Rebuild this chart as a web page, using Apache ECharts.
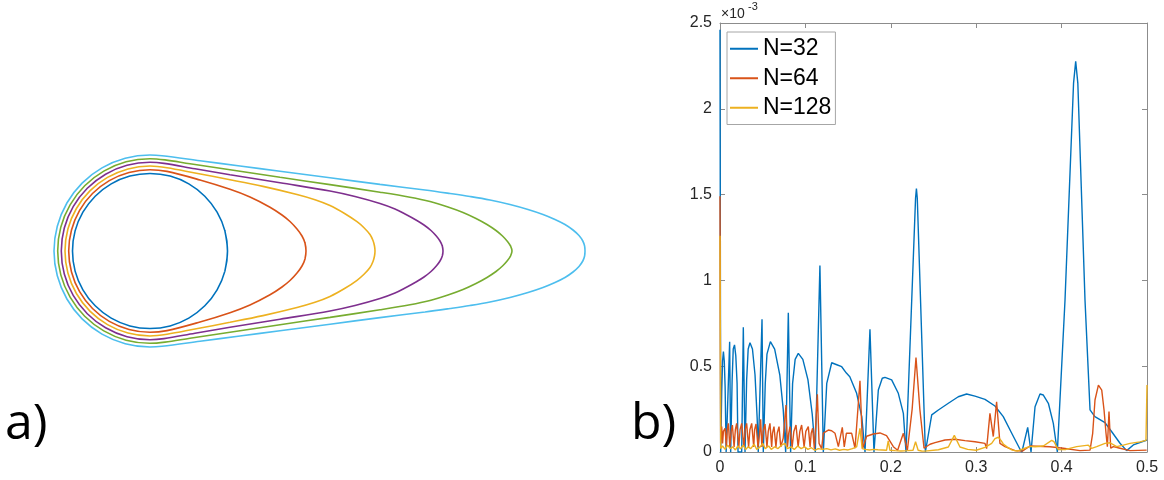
<!DOCTYPE html>
<html><head><meta charset="utf-8">
<script src="https://cdn.jsdelivr.net/npm/echarts@6/dist/echarts.min.js"></script>
<style>html,body{margin:0;padding:0;background:#fff}#c{width:1164px;height:480px}</style>
</head><body><div id="c"></div>
<script>
// ---------- Panel a: contour curves (upper half, from right tip to leftmost point) ----------
const c1x = [77.5, 74.9, 67.1, 54.8, 38.8, 20.1, 0, -20.1, -38.8, -54.8, -67.1, -74.9, -77.5];
const c1y = [0, 20.1, 38.8, 54.8, 67.1, 74.9, 77.5, 74.9, 67.1, 54.8, 38.8, 20.1, 0];
const c2x = [156, 155, 152, 147, 140, 132, 120, 100, 80, 50, 17, 0, -21.0, -40.7, -57.5, -70.4, -78.5, -81.3];
const c2y = [0, 8, 15, 22, 29.5, 36, 43.8, 54, 61.7, 71, 79.6, 81.3, 78.5, 70.4, 57.5, 40.7, 21.0, 0];
const c3x = [225, 224.5, 223, 220, 214, 207, 195, 180, 165, 147, 113, 80, 45, 17, 0, -22.0, -42.5, -60.1, -73.6, -82.1, -85];
const c3y = [0, 5, 10.5, 16.5, 23.3, 29.3, 37.3, 45.5, 51.3, 56.5, 64.6, 71.3, 78.0, 83.3, 85, 82.1, 73.6, 60.1, 42.5, 22.0, 0];
const c4x = [293, 292.3, 290, 286.3, 281, 274, 266, 256, 245, 230, 205, 180, 130, 80, 45, 14, 0, -23.0, -44.4, -62.7, -76.8, -85.7, -88.7];
const c4y = [0, 5, 10, 15, 20.5, 26, 31, 36.5, 42, 47.5, 54.5, 60, 68.2, 76.3, 82.2, 87.6, 88.7, 85.7, 76.8, 62.7, 44.4, 23.0, 0];
const c5x = [362, 360.6, 357.5, 352.5, 346, 337, 326, 313, 298, 280, 260, 230, 180, 130, 80, 40, 15, 0, -23.9, -46.2, -65.3, -79.9, -89.2, -92.3];
const c5y = [0, 4.8, 9.5, 15, 20.5, 26.5, 32.5, 38.5, 44, 49.5, 53.8, 58.8, 66.4, 73.7, 81.2, 87.2, 91.1, 92.3, 89.2, 79.9, 65.3, 46.2, 23.9, 0];
const c6x = [435, 434.6, 432.8, 429, 423, 415, 405, 393, 378, 360, 340, 320, 300, 275, 230, 180, 130, 90, 50, 12, 0, -24.8, -48, -67.9, -83.1, -92.7, -96];
const c6y = [0, 5, 10, 15.5, 21, 26.5, 31.5, 36.5, 41.5, 46.5, 51, 54.5, 57.5, 61, 66.6, 73.2, 79.8, 85, 90.3, 95.3, 96, 92.7, 83.1, 67.9, 48, 24.8, 0];
const contourColors = ['#0072BD', '#D95319', '#EDB120', '#7E2F8E', '#77AC30', '#4DBEEE'];

// ---------- Panel b: error curves (values in units of 1e-3) ----------
const blueX = [0, 0.0008,
  0.0012, 0.002, 0.003, 0.004, 0.005, 0.006, 0.0072,
  0.0094, 0.0113, 0.0125,
  0.0133, 0.0142, 0.0155, 0.0170, 0.0185, 0.0200, 0.0211,
  0.0254, 0.0273, 0.0293,
  0.0300, 0.0312, 0.0330, 0.0351, 0.0380, 0.0410, 0.0435, 0.0448,
  0.0468, 0.0492, 0.0507,
  0.0519, 0.0530, 0.0550, 0.0590, 0.0640, 0.0700, 0.0740, 0.0769,
  0.0776, 0.0800, 0.0827,
  0.0835, 0.0850, 0.0880, 0.0917, 0.0970, 0.1030, 0.1080, 0.1116,
  0.1130, 0.1170, 0.1210,
  0.1215, 0.1250, 0.1308, 0.1360, 0.1425, 0.1480, 0.1520, 0.1600, 0.1660, 0.1698,
  0.1717, 0.1756, 0.1803,
  0.1810, 0.1854, 0.1900, 0.1932, 0.2010, 0.2088, 0.2147, 0.2178,
  0.2195, 0.2290, 0.2300, 0.2310, 0.2405,
  0.2408, 0.2479, 0.2557, 0.2674, 0.2790, 0.2888, 0.2986, 0.3103, 0.3220, 0.3317, 0.3416, 0.3513, 0.3535,
  0.3540, 0.3603, 0.3642,
  0.3645, 0.3689, 0.3747, 0.3786, 0.3845, 0.3903, 0.3950,
  0.4040, 0.4140, 0.4165, 0.4190, 0.4274, 0.4333, 0.4390, 0.4508, 0.4587, 0.4684, 0.4762, 0.4840, 0.5];
const blueY = [2.46, 0,
  0, 0.35, 0.53, 0.585, 0.53, 0.38, 0,
  0, 0.643, 0,
  0, 0.42, 0.60, 0.624, 0.56, 0.40, 0,
  0, 0.727, 0,
  0, 0.42, 0.60, 0.637, 0.60, 0.45, 0.20, 0,
  0, 0.773, 0,
  0, 0.40, 0.57, 0.643, 0.60, 0.45, 0.25, 0,
  0, 0.812, 0,
  0, 0.40, 0.54, 0.575, 0.54, 0.42, 0.22, 0,
  0, 1.087, 0,
  0, 0.40, 0.52, 0.51, 0.497, 0.46, 0.439, 0.342, 0.206, 0,
  0, 0.715, 0,
  0, 0.361, 0.43, 0.435, 0.42, 0.342, 0.225, 0,
  0, 1.48, 1.535, 1.48, 0,
  0, 0.216, 0.245, 0.284, 0.322, 0.338, 0.326, 0.307, 0.268, 0.206, 0.109, 0.016, 0,
  0, 0.144, 0,
  0, 0.264, 0.338, 0.332, 0.284, 0.167, 0,
  0.886, 2.15, 2.276, 2.15, 0.886, 0.245, 0.206, 0.171, 0.118, 0.051, 0.008, 0.041, 0.07];

const orangeX = [0, 0.0008, 0.0012, 0.0020, 0.0030, 0.0040, 0.0059, 0.0075, 0.0085, 0.0098, 0.0115, 0.0130, 0.0145,
  0.0165, 0.0180, 0.0195, 0.0220, 0.0235, 0.0254, 0.0280, 0.0295, 0.0312, 0.0335, 0.0350, 0.0371, 0.0395, 0.0405,
  0.0422, 0.0445, 0.0462, 0.0476, 0.0490, 0.0505, 0.0527, 0.0550, 0.0565, 0.0585, 0.0605, 0.0615, 0.0632, 0.0655,
  0.0670, 0.0691, 0.0712, 0.0740, 0.0773, 0.0790, 0.0805, 0.0820, 0.0845, 0.0865, 0.0890, 0.0915, 0.0935, 0.0956,
  0.0985, 0.1005, 0.1034, 0.1055, 0.1068, 0.1085, 0.1105, 0.1120, 0.1140, 0.1160, 0.1190,
  0.1210, 0.1268, 0.1307, 0.1347, 0.1386, 0.1432, 0.1455, 0.1480, 0.1503, 0.1542, 0.1581, 0.1639, 0.1670, 0.1717,
  0.1795, 0.1873, 0.1950, 0.2030, 0.2080, 0.2147, 0.2194, 0.2250, 0.2295, 0.2340, 0.2389, 0.2459, 0.2518, 0.2635,
  0.2752, 0.2869, 0.2986, 0.3103, 0.3122, 0.3161, 0.3200, 0.3239, 0.3278, 0.3337, 0.3454, 0.3540, 0.3630, 0.3864,
  0.4020, 0.4215, 0.4333, 0.4364, 0.4391, 0.4431, 0.4470, 0.4497, 0.4520, 0.4536, 0.4555, 0.4575, 0.4606, 0.4684,
  0.4801, 0.4996];
const orangeY = [1.49, 0.05, 0.10, 0.148, 0.05, 0.12, 0.138, 0.03, 0.13, 0.167, 0.03, 0.12, 0.157,
  0.03, 0.13, 0.167, 0.03, 0.13, 0.167, 0.03, 0.13, 0.167, 0.03, 0.13, 0.167, 0.03, 0.13,
  0.163, 0.03, 0.10, 0.19, 0.03, 0.12, 0.163, 0.03, 0.12, 0.167, 0.03, 0.11, 0.148, 0.03,
  0.11, 0.148, 0.03, 0.08, 0.274, 0.03, 0.11, 0.148, 0.03, 0.12, 0.157, 0.03, 0.12, 0.157,
  0.03, 0.12, 0.148, 0.03, 0.11, 0.138, 0.02, 0.15, 0.336, 0.05, 0.02,
  0.11, 0.128, 0.124, 0.109, 0.031, 0.144, 0.03, 0.11, 0.118, 0.109, 0.022, 0.415, 0.02, 0.092,
  0.105, 0.111, 0.095, 0.031, 0.01, 0.109, 0.01, 0.25, 0.551, 0.25, 0.022, 0.045, 0.055, 0.07,
  0.074, 0.066, 0.06, 0.05, 0.02, 0.225, 0.09, 0.293, 0.05, 0.031, 0.008, 0.005, 0.035, 0.031,
  0.022, 0.008, 0.011, 0.109, 0.303, 0.39, 0.361, 0.245, 0.109, 0.031, 0.236, 0.022, 0.031, 0.022,
  0.008, 0.011];

const yellowX = [0, 0.0008, 0.003, 0.006, 0.009, 0.012, 0.015, 0.018, 0.021, 0.024, 0.027, 0.030, 0.033, 0.036,
  0.040, 0.043, 0.047, 0.050, 0.053, 0.057, 0.060, 0.064, 0.068, 0.072, 0.076, 0.079, 0.083, 0.087, 0.091, 0.095,
  0.099, 0.103, 0.107, 0.111, 0.115, 0.120, 0.125, 0.130, 0.135, 0.140, 0.145, 0.150, 0.155, 0.160, 0.1639, 0.1665,
  0.170, 0.175, 0.180, 0.185, 0.190, 0.195, 0.197, 0.199, 0.205, 0.212, 0.220, 0.226, 0.229, 0.232, 0.236, 0.240,
  0.2557, 0.2674, 0.2744, 0.2772, 0.281, 0.290, 0.300, 0.3103, 0.3181, 0.322, 0.3259, 0.329, 0.3317, 0.336, 0.3416,
  0.348, 0.3571, 0.3630, 0.3688, 0.3786, 0.3884, 0.391, 0.3962, 0.405, 0.4176, 0.4313, 0.4352, 0.4411, 0.4508,
  0.4567, 0.4645, 0.4723, 0.4801, 0.4918, 0.4988, 0.5];
const yellowY = [1.26, 0.02, 0.035, 0.015, 0.04, 0.02, 0.03, 0.012, 0.035, 0.018, 0.04, 0.015, 0.03, 0.02,
  0.045, 0.015, 0.03, 0.05, 0.02, 0.035, 0.015, 0.03, 0.02, 0.04, 0.05, 0.02, 0.03, 0.015, 0.035, 0.02,
  0.03, 0.015, 0.025, 0.01, 0.02, 0.015, 0.02, 0.012, 0.018, 0.01, 0.015, 0.012, 0.02, 0.03, 0.138, 0.02,
  0.015, 0.012, 0.015, 0.013, 0.012, 0.01, 0.065, 0.01, 0.008, 0.006, 0.008, 0.01, 0.06, 0.01, 0.006, 0.005,
  0.013, 0.029, 0.097, 0.068, 0.029, 0.015, 0.01, 0.027, 0.05, 0.078, 0.086, 0.068, 0.047, 0.03, 0.012,
  0.005, 0.022, 0.033, 0.031, 0.035, 0.068, 0.06, 0.014, 0.015, 0.031, 0.04, 0.021, 0.031, 0.05,
  0.054, 0.031, 0.04, 0.05, 0.059, 0.068, 0.39];

const seriesNames = ['N=32', 'N=64', 'N=128'];
const seriesColors = ['#0072BD', '#D95319', '#EDB120'];
const xTicks = {min: 0, max: 0.5, step: 0.1};
const yTicks = {min: 0, max: 2.5, step: 0.5};

// closed loop from a mirrored upper half
function loop(xs, ys) {
  const pts = [[xs[1], -ys[1]]];
  for (let i = 0; i < xs.length; i++) pts.push([xs[i], ys[i]]);
  for (let i = xs.length - 2; i >= 0; i--) pts.push([xs[i], -ys[i]]);
  pts.push([xs[1], ys[1]]);
  return pts;
}
function zip(xs, ys) { return xs.map((x, i) => [x, ys[i]]); }

const contours = [[c1x, c1y], [c2x, c2y], [c3x, c3y], [c4x, c4y], [c5x, c5y], [c6x, c6y]];
const chart = echarts.init(document.getElementById('c'), null, {renderer: 'canvas'});
const axisGray = '#8c8c8c';
const tickFont = 'Liberation Sans';

const series = [];
contours.forEach((c, i) => {
  series.push({
    type: 'line', name: 'contour' + i, xAxisIndex: 0, yAxisIndex: 0,
    data: loop(c[0], c[1]), showSymbol: false, smooth: 0.35, silent: true,
    lineStyle: {color: contourColors[i], width: 1.6}
  });
});
[[blueX, blueY], [orangeX, orangeY], [yellowX, yellowY]].forEach((s, i) => {
  series.push({
    type: 'line', name: seriesNames[i], xAxisIndex: 1, yAxisIndex: 1,
    data: zip(s[0], s[1]), showSymbol: false, smooth: false,
    itemStyle: {color: seriesColors[i]},
    lineStyle: {color: seriesColors[i], width: 1.4}
  });
});

function boxAxis(pos, isX, showLabel) {
  const t = isX ? xTicks : yTicks;
  return {
    gridIndex: 1, type: 'value', position: pos, min: t.min, max: t.max, interval: t.step,
    axisLine: {show: true, onZero: false, lineStyle: {color: axisGray, width: 1}},
    axisTick: {show: true, inside: true, length: 5, lineStyle: {color: axisGray}},
    axisLabel: {show: showLabel, color: '#262626', fontSize: 16, fontFamily: tickFont, margin: 8},
    splitLine: {show: false}
  };
}

chart.setOption({
  animation: false,
  backgroundColor: '#ffffff',
  grid: [
    {left: 50, top: 141, width: 550, height: 220},
    {left: 720, top: 23, width: 427, height: 429}
  ],
  xAxis: [
    {gridIndex: 0, type: 'value', min: -100, max: 450, show: false},
    boxAxis('bottom', true, true),
    boxAxis('top', true, false)
  ],
  yAxis: [
    {gridIndex: 0, type: 'value', min: -110, max: 110, show: false},
    boxAxis('left', false, true),
    boxAxis('right', false, false)
  ],
  legend: {
    data: seriesNames, orient: 'vertical', left: 727, top: 32,
    padding: [2, 4, 2, 3], itemGap: 0, itemWidth: 28, itemHeight: 2, icon: 'rect',
    backgroundColor: '#fff', borderColor: '#a6a6a6', borderWidth: 1, borderRadius: 0,
    textStyle: {fontSize: 23, fontFamily: tickFont, color: '#000', lineHeight: 29.5},
    selectedMode: false
  },
  graphic: [
    {type: 'text', left: 5, top: 400, style: {text: 'a)', font: '50px "Open Sans"', fill: '#000'}},
    {type: 'text', left: 631, top: 400, style: {text: 'b)', font: '50px "Open Sans"', fill: '#000'}},
    {type: 'text', left: 721, top: 7, style: {text: '×10', font: '14px "Liberation Sans"', fill: '#262626'}},
    {type: 'text', left: 748, top: 1, style: {text: '-3', font: '11px "Liberation Sans"', fill: '#262626'}}
  ],
  series: series
});
</script>
</body></html>
